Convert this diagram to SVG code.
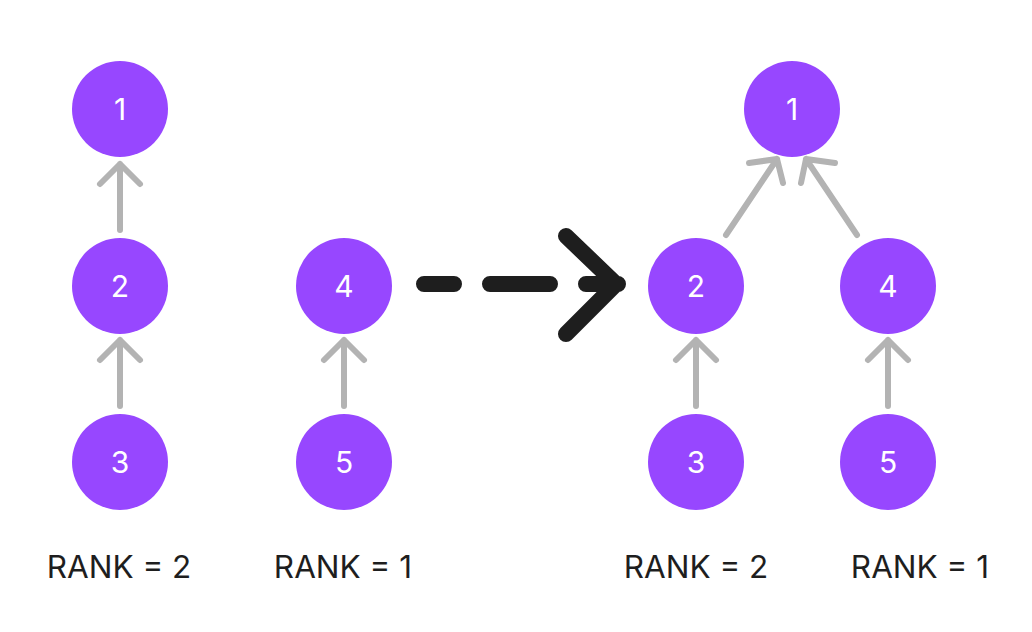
<svg xmlns="http://www.w3.org/2000/svg" width="1032" height="632" viewBox="0 0 1032 632">
<style>
.n{fill:#9747ff}
.t{fill:#ffffff;font-family:Inter,"Liberation Sans",sans-serif;font-size:30px;text-anchor:middle}
.e{fill:none;stroke:#b3b3b3;stroke-width:6;stroke-linecap:round;stroke-linejoin:round}
.d{fill:none;stroke:#1e1e1e;stroke-width:16;stroke-linecap:round;stroke-linejoin:round}
.l{fill:#1e1e1e;font-family:Inter,"Liberation Sans",sans-serif;font-size:31.5px;text-anchor:middle}
</style>
<rect width="1032" height="632" fill="#ffffff"/>
<g id="connectors">
<path class="e" d="M120 230V164M100 184L120 164L140 184"/>
<path class="e" d="M120 406V340M100 360L120 340L140 360"/>
<path class="e" d="M344 406V340M324 360L344 340L364 360"/>
<path class="e" d="M696 406V340M676 360L696 340L716 360"/>
<path class="e" d="M888 406V340M868 360L888 340L908 360"/>
<path class="e" d="M726 235L777 159M749 163L777 159L783 183"/>
<path class="e" d="M857 235L806 159M835 163L806 159L801 183"/>
<path class="d" d="M424 284H454M490 284H550M586 284H618M566 236L616 284L566 334"/>
</g>
<g id="n1a"><circle class="n" cx="120" cy="109" r="48"/><text class="t" x="120" y="120">1</text></g>
<g id="n2a"><circle class="n" cx="120" cy="286" r="48"/><text class="t" x="120" y="297">2</text></g>
<g id="n3a"><circle class="n" cx="120" cy="462" r="48"/><text class="t" x="120" y="473">3</text></g>
<g id="n4a"><circle class="n" cx="344" cy="286" r="48"/><text class="t" x="344" y="297">4</text></g>
<g id="n5a"><circle class="n" cx="344" cy="462" r="48"/><text class="t" x="344" y="473">5</text></g>
<g id="n1b"><circle class="n" cx="792" cy="109" r="48"/><text class="t" x="792" y="120">1</text></g>
<g id="n2b"><circle class="n" cx="696" cy="286" r="48"/><text class="t" x="696" y="297">2</text></g>
<g id="n4b"><circle class="n" cx="888" cy="286" r="48"/><text class="t" x="888" y="297">4</text></g>
<g id="n3b"><circle class="n" cx="696" cy="462" r="48"/><text class="t" x="696" y="473">3</text></g>
<g id="n5b"><circle class="n" cx="888" cy="462" r="48"/><text class="t" x="888" y="473">5</text></g>
<g id="labels">
<text class="l" x="119" y="578">RANK = 2</text>
<text class="l" x="343" y="578">RANK = 1</text>
<text class="l" x="696" y="578">RANK = 2</text>
<text class="l" x="920" y="578">RANK = 1</text>
</g>
</svg>
